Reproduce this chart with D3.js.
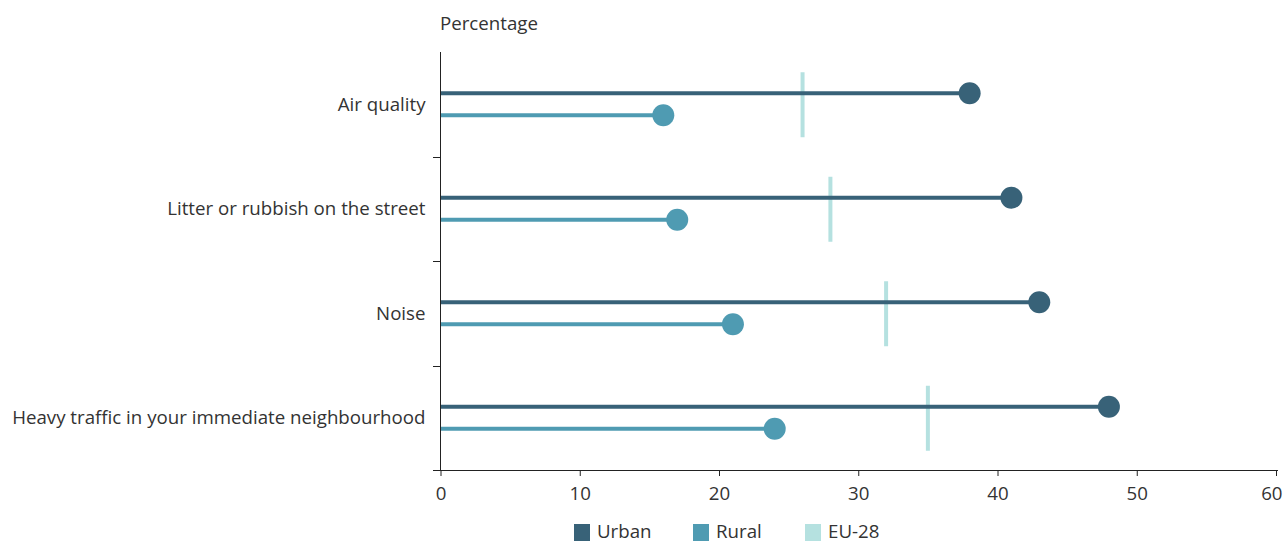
<!DOCTYPE html>
<html><head><meta charset="utf-8">
<script src="https://cdn.jsdelivr.net/npm/d3@7"></script>
<style>body{margin:0;background:#fff;font-family:"Open Sans",sans-serif;}</style>
</head><body><svg id="c" width="1283" height="541"></svg>
<script>
const categories = ["Air quality","Litter or rubbish on the street","Noise","Heavy traffic in your immediate neighbourhood"];
const urban = [38,41,43,48];
const rural = [16,17,21,24];
const eu28 = [26,28,32,35];
const xTicks = [0,10,20,30,40,50,60];
const seriesNames = ["Urban","Rural","EU-28"];
const colors = ["#386278","#4f9bb2","#b5e1e0"];

(function(){
const svg = d3.select("#c");
const mL = 440.5, mR = 1276, mT = 52, mB = 470;
const fs = 18.7;
const x = d3.scaleLinear().domain([0,60]).range([mL,mR]);
const y = d3.scaleBand().domain(categories).range([mT,mB]);
const txt = "#333";

const xa = svg.append("g").attr("transform",`translate(0,${mB})`)
  .call(d3.axisBottom(x).tickValues(xTicks).tickSize(6).tickSizeOuter(0).tickPadding(11));
xa.select(".domain").attr("d",`M${mL-7},0.5H${mR+2}`);
xa.selectAll("text").attr("font-size",fs).attr("font-family","Open Sans").attr("fill",txt);
xa.selectAll(".tick").filter(d=>d===60).select("text").attr("text-anchor","end").attr("x",6);
xa.selectAll("line,path").attr("stroke","#222");

const ya = svg.append("g").attr("transform",`translate(${mL},0)`)
  .call(d3.axisLeft(y).tickSize(0).tickPadding(15));
ya.select(".domain").remove();
ya.selectAll("text").attr("font-size",fs).attr("font-family","Open Sans").attr("fill",txt).attr("dy","0.36em");
svg.append("line").attr("x1",440.5).attr("x2",440.5).attr("y1",mT).attr("y2",mB).attr("stroke","#222");
svg.selectAll(".ytick").data(categories).enter().append("line")
  .attr("x1",433).attr("x2",440).attr("y1",d=>Math.round(y(d)+y.bandwidth())+0.5).attr("y2",d=>Math.round(y(d)+y.bandwidth())+0.5)
  .attr("stroke","#222");

svg.append("text").attr("x",440).attr("y",30).attr("font-size",fs).attr("fill",txt).text("Percentage");

const cy = d => y(d)+y.bandwidth()/2;
svg.selectAll(".eu").data(categories).enter().append("line")
  .attr("x1",(d,i)=>x(eu28[i])).attr("x2",(d,i)=>x(eu28[i]))
  .attr("y1",d=>cy(d)-32).attr("y2",d=>cy(d)+33)
  .attr("stroke",colors[2]).attr("stroke-width",4);

function series(vals, off, col){
  const g = svg.append("g");
  g.selectAll("line").data(categories).enter().append("line")
    .attr("x1",441).attr("x2",(d,i)=>x(vals[i]))
    .attr("y1",d=>cy(d)+off).attr("y2",d=>cy(d)+off)
    .attr("stroke",col).attr("stroke-width",4);
  g.selectAll("circle").data(categories).enter().append("circle")
    .attr("cx",(d,i)=>x(vals[i])).attr("cy",d=>cy(d)+off).attr("r",11).attr("fill",col);
}
series(urban,-11,colors[0]);
series(rural,11,colors[1]);

const lx = [574,693,805];
const lg = svg.selectAll(".lg").data(seriesNames).enter().append("g");
lg.append("rect").attr("x",(d,i)=>lx[i]).attr("y",524).attr("width",16).attr("height",17).attr("fill",(d,i)=>colors[i]);
lg.append("text").attr("x",(d,i)=>lx[i]+23).attr("y",538).attr("font-size",fs).attr("fill",txt).text(d=>d);
})();
</script></body></html>
